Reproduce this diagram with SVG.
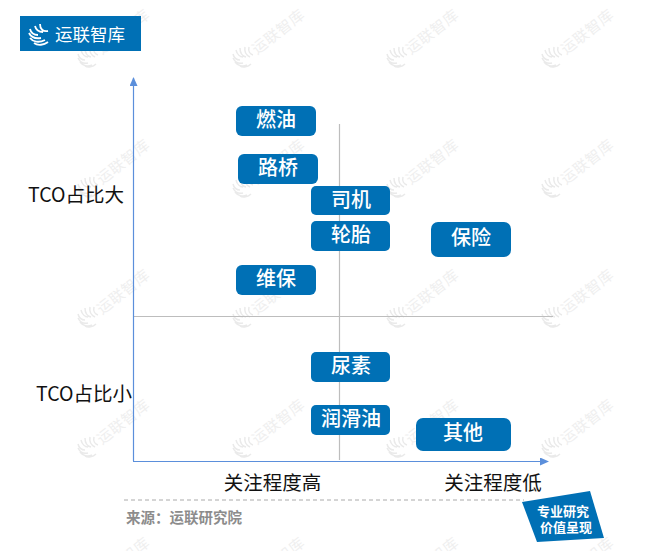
<svg xmlns="http://www.w3.org/2000/svg" width="663" height="551" viewBox="0 0 663 551">
<style>
text{font-family:"Noto Sans CJK SC","Noto Sans",sans-serif}
.n{fill:#0070B5}
.nt{fill:#fff;font-size:20px;font-weight:500;text-anchor:middle}
.l{fill:#111;font-size:19.500px;text-anchor:middle}
.wt{fill:#efefef;font-size:15px;letter-spacing:.5px}
.wm{fill:none;stroke:#eaeaea;stroke-width:1.500}
.lm{fill:none;stroke:#fff;stroke-width:1.800}
.tg{fill:#fff;text-anchor:middle;font-weight:700;font-size:13px}
</style>
<defs>
<marker id="ah" markerWidth="9" markerHeight="8" refX="8" refY="4" orient="auto" markerUnits="userSpaceOnUse"><path d="M0 0L9 4L0 8Z" fill="#5B8FDB"/></marker>
<g id="wm">
<path class="wm" d="M-10-3C-9 1-6 3-3 3M-10 1C-8 5-4 7 0 6M-8 5C-5 9 0 10 4 8M-3 9C0 11 5 10 8 7M-7-7C-6-3-3 0 0 0M-3-9C-3-4-1-1 3 0M2-10C1-5 3-2 7 0M6-10C5-6 7-3 10-2"/>
<text class="wt" x="14" y="-2" transform="rotate(-38 14 -2)">运联智库</text>
</g>
</defs>
<rect width="663" height="551" fill="#fff"/>
<g id="watermarks">
<use href="#wm" x="88" y="57"/><use href="#wm" x="243" y="57"/><use href="#wm" x="397" y="57"/><use href="#wm" x="552" y="57"/>
<use href="#wm" x="88" y="187"/><use href="#wm" x="243" y="187"/><use href="#wm" x="397" y="187"/><use href="#wm" x="552" y="187"/>
<use href="#wm" x="88" y="317"/><use href="#wm" x="243" y="317"/><use href="#wm" x="397" y="317"/><use href="#wm" x="552" y="317"/>
<use href="#wm" x="88" y="447"/><use href="#wm" x="243" y="447"/><use href="#wm" x="397" y="447"/><use href="#wm" x="552" y="447"/>
<use href="#wm" x="88" y="585"/><use href="#wm" x="243" y="585"/><use href="#wm" x="397" y="585"/><use href="#wm" x="552" y="585"/>
</g>
<g id="connectors" fill="none">
<path d="M133 316.500H553" stroke="#bdbdbd" stroke-width="1.200"/>
<path d="M339.500 124V460" stroke="#bdbdbd" stroke-width="1.200"/>
<path d="M133.500 461V78" stroke="#5B8FDB" stroke-width="1.200" marker-end="url(#ah)"/>
<path d="M133 461.500H548" stroke="#5B8FDB" stroke-width="1.200" marker-end="url(#ah)"/>
<path d="M124 500H524" stroke="#aaa" stroke-width="1" stroke-dasharray="4 3"/>
</g>
<g id="logo">
<rect class="n" x="20" y="16" width="121" height="35"/>
<path class="lm" d="M30 29C31 33 34 35 38 35M29 33C31 37 35 39 41 38M30 38C33 42 39 43 45 40M34 43C38 46 44 45 48 42M35 26C36 30 39 32 43 32M40 24C40 29 43 32 48 31"/>
<text x="55" y="41" fill="#fff" style="font-size:17.500px">运联智库</text>
</g>
<g id="n-ranyou"><rect class="n" x="236" y="106" width="80" height="30" rx="6"/><text class="nt" x="276" y="127">燃油</text></g>
<g id="n-luqiao"><rect class="n" x="238" y="154" width="80" height="30" rx="6"/><text class="nt" x="278" y="175">路桥</text></g>
<g id="n-siji"><rect class="n" x="311" y="186" width="79" height="29" rx="5"/><text class="nt" x="351" y="206.500">司机</text></g>
<g id="n-luntai"><rect class="n" x="311" y="221" width="79" height="30" rx="5"/><text class="nt" x="351" y="242">轮胎</text></g>
<g id="n-baoxian"><rect class="n" x="431" y="222" width="80" height="35" rx="7"/><text class="nt" x="471" y="245">保险</text></g>
<g id="n-weibao"><rect class="n" x="236" y="265" width="80" height="30" rx="6"/><text class="nt" x="276" y="286">维保</text></g>
<g id="n-niaosu"><rect class="n" x="311" y="352" width="79" height="30" rx="5"/><text class="nt" x="351" y="373">尿素</text></g>
<g id="n-runhuayou"><rect class="n" x="311" y="405" width="79" height="30" rx="5"/><text class="nt" x="351" y="426">润滑油</text></g>
<g id="n-qita"><rect class="n" x="416" y="418" width="95" height="33" rx="7"/><text class="nt" x="463" y="440">其他</text></g>
<g id="labels">
<text class="l" x="76" y="202">TCO占比大</text>
<text class="l" x="84" y="401">TCO占比小</text>
<text class="l" x="272.500" y="490">关注程度高</text>
<text class="l" x="493" y="490">关注程度低</text>
<text x="126" y="523" fill="#8c8c8c" font-weight="700" style="font-size:14.500px">来源：运联研究院</text>
</g>
<g id="tag">
<polygon class="n" points="522,502 590,491 604,538 537,542"/>
<text class="tg"><tspan x="563" y="515.500">专业研究</tspan><tspan x="566" y="532">价值呈现</tspan></text>
</g>
</svg>
